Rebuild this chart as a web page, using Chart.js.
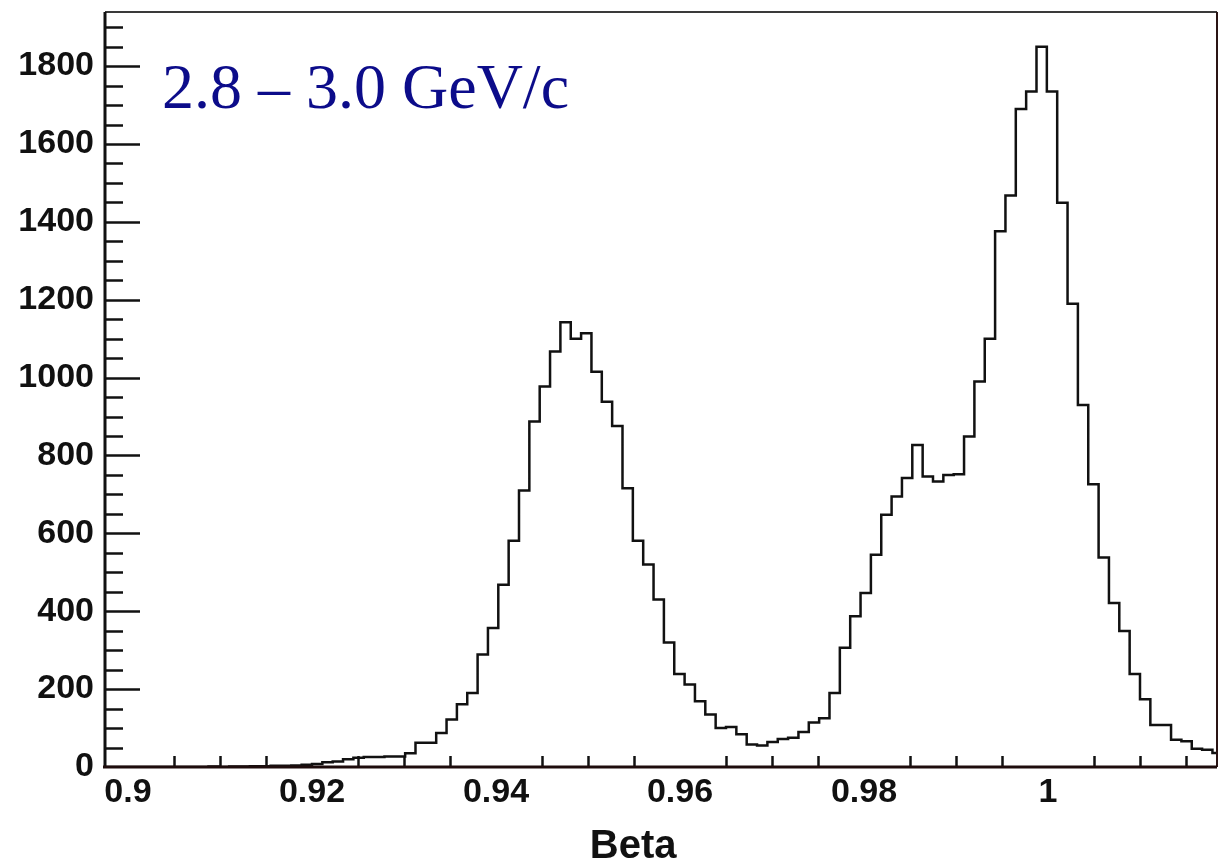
<!DOCTYPE html>
<html>
<head>
<meta charset="utf-8">
<script src="https://cdn.jsdelivr.net/npm/chart.js@4/dist/chart.umd.min.js"></script>
<style>
  html, body { margin: 0; padding: 0; background: #ffffff; }
  canvas { display: block; }
</style>
</head>
<body>
<canvas id="beta" width="1220" height="864"></canvas>
<script>
// Histogram layout: fixed-width bins starting at binStart
const binStart = 0.8975;
const binWidth = 0.001125;

// Entries per bin
const counts = [
  0, 0, 0, 0, 0, 0, 0, 0, 0, 0,
  1, 0, 1, 1, 2, 2, 3, 3, 4, 6,
  8, 12, 14, 20, 24, 26, 26, 27, 27, 35,
  62, 62, 87, 122, 161, 190, 289, 357, 468, 581,
  710, 887, 977, 1067, 1142, 1100, 1114, 1015, 938, 876,
  716, 581, 520, 430, 320, 239, 212, 169, 135, 100,
  103, 84, 58, 55, 64, 72, 75, 90, 114, 125,
  190, 306, 387, 447, 545, 648, 695, 742, 827, 746,
  733, 750, 752, 849, 990, 1100, 1376, 1468, 1690, 1735,
  1850, 1735, 1449, 1190, 930, 726, 538, 421, 349, 239,
  174, 108, 108, 70, 66, 47, 44, 36
];

// Axis ranges and labelled ticks
const xMin = 0.8975;
const xMax = 1.01837;
const yMin = 0;
const yMax = 1939;
const xTickValues = [0.9, 0.92, 0.94, 0.96, 0.98, 1.0];
const xTickLabels = ['0.9', '0.92', '0.94', '0.96', '0.98', '1'];
const yTickValues = [0, 200, 400, 600, 800, 1000, 1200, 1400, 1600, 1800];
const xMinorStep = 0.005;
const yMinorStep = 50;

const rangeLabel = '2.8 \u2013 3.0 GeV/c';
const axisTitle = 'Beta';

// Step outline: one point per bin edge, last value repeated at the closing edge
const points = counts.map((c, i) => ({ x: binStart + i * binWidth, y: c }));
points.push({ x: binStart + counts.length * binWidth, y: counts[counts.length - 1] });

const labelFont = { family: 'Liberation Sans', weight: 'bold', size: 34 };

const framePlugin = {
  id: 'frame',
  beforeDraw(chart) {
    const ctx = chart.ctx;
    ctx.save();
    ctx.fillStyle = '#ffffff';
    ctx.fillRect(0, 0, chart.width, chart.height);
    ctx.restore();
  },
  afterDraw(chart) {
    const ctx = chart.ctx;
    const a = chart.chartArea;
    const xs = chart.scales.x;
    const ys = chart.scales.y;
    ctx.save();

    // inward tick marks on the y axis
    ctx.strokeStyle = '#111111';
    ctx.lineWidth = 2.5;
    for (let v = yMin + yMinorStep; v < yMax; v += yMinorStep) {
      const py = Math.round(ys.getPixelForValue(v)) + 0.5;
      const len = (v % 200 === 0) ? 35 : 18;
      ctx.beginPath();
      ctx.moveTo(a.left, py);
      ctx.lineTo(a.left + len, py);
      ctx.stroke();
    }

    // short inward tick marks on the x axis
    const n0 = Math.ceil(xMin / xMinorStep - 1e-9);
    const n1 = Math.floor(xMax / xMinorStep + 1e-9);
    for (let n = n0; n <= n1; n++) {
      if (n % 4 === 0) continue;
      const px = Math.round(xs.getPixelForValue(n * xMinorStep)) + 0.5;
      ctx.beginPath();
      ctx.moveTo(px, a.bottom);
      ctx.lineTo(px, a.bottom - 11);
      ctx.stroke();
    }

    // frame
    ctx.strokeStyle = '#3a3a3a';
    ctx.lineWidth = 2;
    ctx.beginPath();
    ctx.moveTo(a.left, a.top);
    ctx.lineTo(a.right, a.top);
    ctx.stroke();
    ctx.strokeStyle = '#2a1414';
    ctx.beginPath();
    ctx.moveTo(a.right, a.top);
    ctx.lineTo(a.right, a.bottom);
    ctx.stroke();

    ctx.strokeStyle = '#111111';
    ctx.lineWidth = 3;
    ctx.beginPath();
    ctx.moveTo(a.left, a.top);
    ctx.lineTo(a.left, a.bottom);
    ctx.stroke();
    ctx.strokeStyle = '#1e0c0c';
    ctx.beginPath();
    ctx.moveTo(a.left - 2, a.bottom);
    ctx.lineTo(a.right, a.bottom);
    ctx.stroke();

    // momentum range label
    ctx.fillStyle = '#0c0c8a';
    ctx.font = '64px "Liberation Serif"';
    ctx.textAlign = 'left';
    ctx.textBaseline = 'alphabetic';
    ctx.fillText(rangeLabel, a.left + 57, a.top + 96);

    // x axis title
    ctx.fillStyle = '#111111';
    ctx.font = 'bold 40px "Liberation Sans"';
    ctx.textAlign = 'center';
    ctx.fillText(axisTitle, a.left + 0.475 * (a.right - a.left), chart.height - 6);

    ctx.restore();
  }
};

new Chart(document.getElementById('beta'), {
  type: 'line',
  data: {
    datasets: [{
      data: points,
      stepped: 'before',
      borderColor: '#111111',
      borderWidth: 2.5,
      pointRadius: 0,
      fill: false,
      tension: 0
    }]
  },
  options: {
    responsive: false,
    animation: false,
    devicePixelRatio: 1,
    layout: { padding: { left: 0, right: 3, top: 12, bottom: 0 } },
    plugins: { legend: { display: false }, tooltip: { enabled: false } },
    scales: {
      x: {
        type: 'linear',
        min: xMin,
        max: xMax,
        grid: { display: false, drawTicks: false },
        border: { display: false },
        ticks: {
          font: labelFont,
          color: '#111111',
          padding: 5,
          maxRotation: 0,
          autoSkip: false,
          callback: (v) => {
            const i = xTickValues.findIndex(t => Math.abs(t - v) < 1e-9);
            return i >= 0 ? xTickLabels[i] : '';
          }
        },
        afterBuildTicks: (s) => { s.ticks = xTickValues.map(v => ({ value: v })); },
        afterFit: (s) => { s.height = 97; s.paddingLeft = 0; s.paddingRight = 0; }
      },
      y: {
        type: 'linear',
        min: yMin,
        max: yMax,
        grid: { display: false, drawTicks: false },
        border: { display: false },
        ticks: {
          font: labelFont,
          color: '#111111',
          padding: 11,
          autoSkip: false,
          callback: (v) => String(v)
        },
        afterBuildTicks: (s) => { s.ticks = yTickValues.map(v => ({ value: v })); },
        afterFit: (s) => { s.width = 105; s.paddingTop = 0; s.paddingBottom = 0; }
      }
    }
  },
  plugins: [framePlugin]
});
</script>
</body>
</html>
